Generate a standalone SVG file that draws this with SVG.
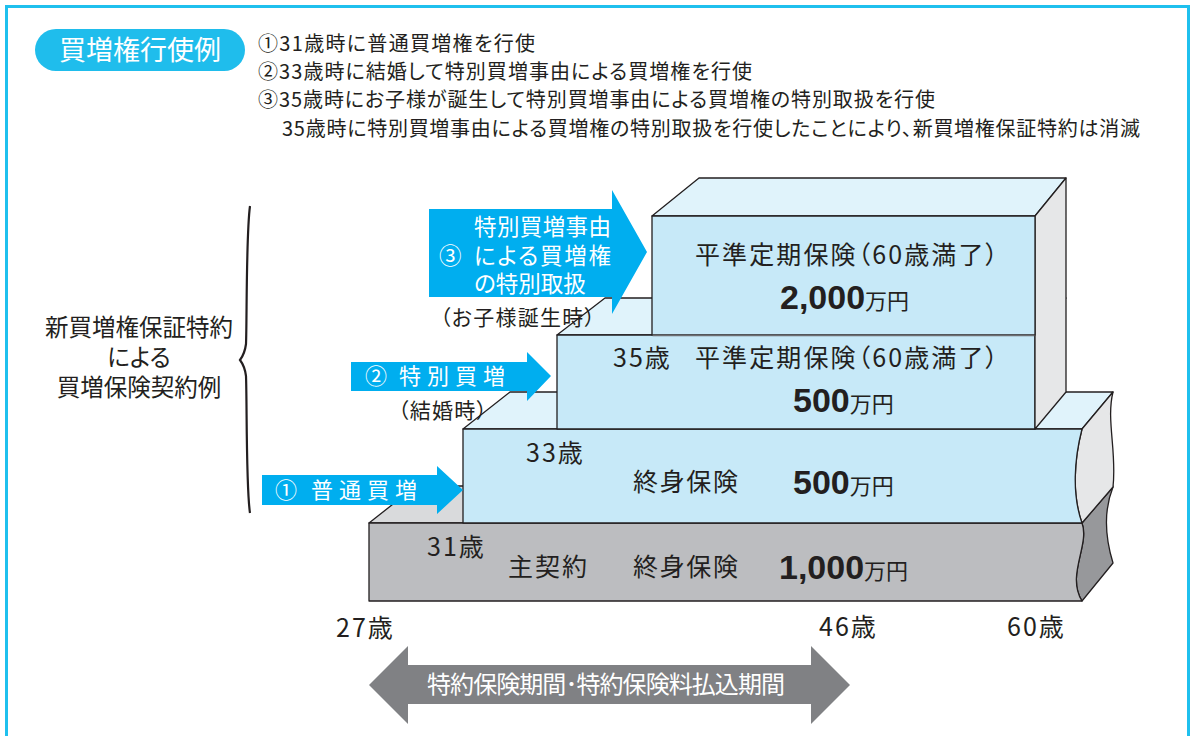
<svg xmlns="http://www.w3.org/2000/svg" width="1192" height="736" viewBox="0 0 1192 736">
<style>
.jp{font-family:"Noto Sans CJK JP","Noto Sans CJK SC",sans-serif;font-feature-settings:"palt";fill:#231f20}
.w{fill:#fff}
.age{font-size:25px;letter-spacing:2px}
.num{font-family:"Liberation Sans",Arial,sans-serif;font-weight:700;font-size:34px;fill:#231f20}
.edge{stroke:#231f20;stroke-width:1.3;stroke-linejoin:round}
.front{fill:#c7e9f8}
.top{fill:#e0f3fb}
.side{fill:#e6e7e8}
.gfront{fill:#bcbdc0}
.gtop{fill:#d9dadc}
.gside{fill:#97989b}
.arrow{fill:#00aeef}
</style>
<rect width="1192" height="736" fill="#fff"/>
<g id="frame">
  <rect x="6.5" y="6.5" width="1182" height="760" fill="none" stroke="#1fc0ee" stroke-width="3"/>
</g>
<g id="title">
  <rect x="35" y="29" width="210" height="42" rx="21" fill="#1fbdec"/>
  <text x="140" y="60" text-anchor="middle" class="jp w" font-size="27">買増権行使例</text>
</g>
<g id="notes" class="jp" font-size="20">
  <text class="jp" x="258" y="51" textLength="277" lengthAdjust="spacing">①31歳時に普通買増権を行使</text>
  <text class="jp" x="258" y="79" textLength="494" lengthAdjust="spacing">②33歳時に結婚して特別買増事由による買増権を行使</text>
  <text class="jp" x="258" y="107" textLength="677" lengthAdjust="spacing">③35歳時にお子様が誕生して特別買増事由による買増権の特別取扱を行使</text>
  <text class="jp" x="282" y="136" textLength="858" lengthAdjust="spacing">35歳時に特別買増事由による買増権の特別取扱を行使したことにより、新買増権保証特約は消滅</text>
</g>
<g id="brace-label">
  <path d="M250 206 C246 235 247 320 246 344 C245 352 243 356 240 360 C243 364 245 368 246 376 C247 400 246 488 250 513" fill="none" stroke="#231f20" stroke-width="2.2"/>
  <text class="jp" x="139" y="336" text-anchor="middle" font-size="23.5">新買増権保証特約</text>
  <text class="jp" x="139" y="366" text-anchor="middle" font-size="23.5">による</text>
  <text class="jp" x="139" y="396" text-anchor="middle" font-size="23.5">買増保険契約例</text>
</g>
<g id="box-main">
  <polygon class="gtop edge" points="369,523 416,486 1113,486 1082,523"/>
  <path class="gside edge" d="M1082 523 L1113 487 C1103 512 1106 540 1113 563 L1082 601 C1066 575 1090 545 1082 523 Z"/>
  <path class="gfront edge" d="M369 523 L1082 523 C1090 545 1066 575 1082 601 L369 601 Z"/>
  <text class="jp age" x="427" y="556">31歳</text>
  <text class="jp" x="508" y="576" font-size="25" textLength="79" lengthAdjust="spacing">主契約</text>
  <text class="jp" x="633" y="576" font-size="25" textLength="105" lengthAdjust="spacing">終身保険</text>
  <text x="779" y="579"><tspan class="num">1,000</tspan><tspan class="jp" font-size="22">万円</tspan></text>
</g>
<g id="box-whole">
  <polygon class="top edge" points="463,429 510,392 1113,392 1082,429"/>
  <path class="side edge" d="M1082 429 L1113 392 C1106 420 1117 452 1113 487 L1082 523 C1072 495 1074 460 1082 429 Z"/>
  <path class="front edge" d="M463 429 L1082 429 C1074 460 1072 495 1082 523 L463 523 Z"/>
  <text class="jp age" x="526" y="462">33歳</text>
  <text class="jp" x="633" y="491" font-size="25" textLength="105" lengthAdjust="spacing">終身保険</text>
  <text x="793" y="494"><tspan class="num">500</tspan><tspan class="jp" font-size="22">万円</tspan></text>
</g>
<g id="box-term500">
  <polygon class="top edge" points="557,335 605,298 1066,298 1035,335"/>
  <rect class="front edge" x="557" y="335" width="478" height="94"/>
  <text class="jp age" x="613" y="367">35歳</text>
  <text class="jp" x="695" y="367" font-size="25" textLength="303" lengthAdjust="spacing">平準定期保険（60歳満了）</text>
  <text x="793" y="412"><tspan class="num">500</tspan><tspan class="jp" font-size="22">万円</tspan></text>
</g>
<g id="box-term2000">
  <polygon class="top edge" points="652,216 699,178 1066,178 1035,216"/>
  <polygon class="side edge" points="1035,216 1066,178 1066,392 1035,429"/>
  <rect class="front edge" x="652" y="216" width="383" height="119"/>
  <line x1="652.5" y1="335.5" x2="1034.5" y2="335.5" stroke="#6d6e71" stroke-width="1.6"/>
  <text class="jp" x="695" y="264" font-size="25" textLength="303" lengthAdjust="spacing">平準定期保険（60歳満了）</text>
  <text x="780" y="309"><tspan class="num">2,000</tspan><tspan class="jp" font-size="22">万円</tspan></text>
</g>
<g id="connectors">
  <polygon class="arrow" points="262,475 437,475 437,466 463,490 437,514 437,505 262,505"/>
  <polygon class="arrow" points="351,362 527,362 527,352 551,376 527,401 527,391 351,391"/>
  <polygon class="arrow" points="429,209 612,209 612,190 647,252 612,314 612,297 429,297"/>
  <polygon fill="#808184" points="369,685 408,646 408,665 811,665 811,646 850,685 811,724 811,704 408,704 408,724"/>
</g>
<g id="arrow-labels">
  <text class="jp w" x="275" y="498" font-size="22">①</text>
  <text class="jp w" x="311" y="498" font-size="22" letter-spacing="6">普通買増</text>
  <text class="jp w" x="365" y="384" font-size="22">②</text>
  <text class="jp w" x="399" y="384" font-size="22" letter-spacing="6">特別買増</text>
  <text class="jp" x="398" y="418" font-size="21" textLength="89" lengthAdjust="spacing">（結婚時）</text>
  <text class="jp w" x="439" y="264" font-size="22.5">③</text>
  <text class="jp w" x="474" y="235" font-size="22.5" textLength="137" lengthAdjust="spacing">特別買増事由</text>
  <text class="jp w" x="474" y="264" font-size="22.5" textLength="137" lengthAdjust="spacing">による買増権</text>
  <text class="jp w" x="474" y="292" font-size="22.5">の特別取扱</text>
  <text class="jp" x="440" y="325" font-size="21" textLength="155" lengthAdjust="spacing">（お子様誕生時）</text>
  <text class="jp w" x="427" y="693" font-size="24" textLength="358" lengthAdjust="spacing">特約保険期間･特約保険料払込期間</text>
</g>
<g id="axis">
  <text class="jp age" x="336" y="637">27歳</text>
  <text class="jp age" x="819" y="636">46歳</text>
  <text class="jp age" x="1007" y="636">60歳</text>
</g>
</svg>
